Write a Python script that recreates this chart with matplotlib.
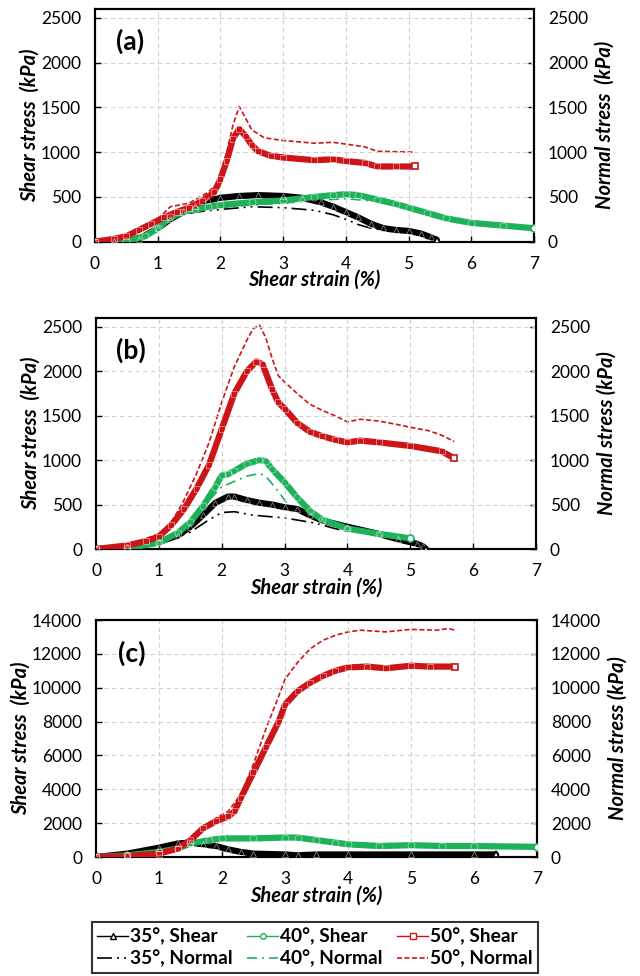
import matplotlib
matplotlib.use("Agg")
import matplotlib.pyplot as plt
from matplotlib.lines import Line2D
import numpy as np

plt.rcParams['font.family'] = ['Lato', 'DejaVu Sans']

# ---------------- panel (a) ----------------
a35s_x = [0, 0.3, 0.7, 1.0, 1.2, 1.4, 1.6, 1.8, 2.0, 2.3, 2.6, 3.0, 3.3, 3.6, 3.8, 4.0, 4.2, 4.4, 4.6, 4.8, 5.0, 5.2, 5.35, 5.45]
a35s_y = [0, 5, 30, 150, 250, 330, 400, 460, 490, 510, 520, 510, 490, 440, 390, 330, 270, 200, 150, 130, 120, 90, 50, 20]
a35n_x = [0, 0.3, 0.7, 1.0, 1.3, 1.6, 2.0, 2.5, 3.0, 3.5, 3.8, 4.0, 4.2, 4.4, 4.6]
a35n_y = [0, 5, 30, 120, 280, 330, 360, 390, 380, 350, 300, 250, 190, 150, 130]
a40s_x = [0, 0.5, 0.8, 1.0, 1.2, 1.4, 1.6, 1.8, 2.0, 2.5, 3.0, 3.5, 3.8, 4.0, 4.2, 4.5, 4.8, 5.0, 5.3, 5.6, 6.0, 6.5, 7.0]
a40s_y = [0, 10, 60, 150, 270, 330, 360, 390, 410, 440, 460, 500, 520, 530, 520, 470, 420, 380, 320, 260, 210, 180, 150]
a40n_x = [0, 0.5, 0.8, 1.0, 1.2, 1.4, 1.7, 2.0, 2.5, 3.0, 3.5, 4.0, 4.5, 4.8, 5.0]
a40n_y = [0, 10, 50, 130, 250, 310, 350, 380, 410, 430, 460, 480, 450, 400, 370]
a50s_x = [0, 0.3, 0.5, 0.7, 0.9, 1.1, 1.3, 1.5, 1.7, 1.9, 2.0, 2.1, 2.2, 2.3, 2.4, 2.5, 2.6, 2.8, 3.0, 3.5, 3.8, 4.0, 4.3, 4.5, 4.8, 5.1]
a50s_y = [0, 30, 60, 130, 200, 270, 330, 380, 450, 550, 700, 900, 1150, 1260, 1180, 1080, 1010, 960, 940, 910, 920, 900, 880, 840, 840, 840]
a50n_x = [0, 0.5, 1.0, 1.2, 1.5, 1.8, 1.95, 2.1, 2.2, 2.3, 2.4, 2.5, 2.7, 3.0, 3.5, 3.8, 4.0, 4.3, 4.5, 5.1]
a50n_y = [0, 60, 250, 390, 430, 550, 650, 1000, 1300, 1510, 1380, 1250, 1160, 1130, 1100, 1110, 1090, 1060, 1010, 1000]

# ---------------- panel (b) ----------------
b35s_x = [0, 0.5, 1.0, 1.3, 1.5, 1.7, 1.9, 2.1, 2.2, 2.4, 2.6, 2.8, 3.0, 3.2, 3.4, 3.6, 4.0, 4.5, 4.8, 5.1, 5.2, 5.25]
b35s_y = [0, 20, 80, 150, 250, 380, 520, 590, 590, 550, 520, 500, 470, 450, 380, 320, 250, 170, 110, 60, 30, 0]
b35n_x = [0, 0.5, 1.0, 1.5, 1.8, 2.0, 2.2, 2.5, 3.0, 3.5, 3.8, 4.0]
b35n_y = [0, 15, 60, 190, 330, 410, 420, 380, 350, 290, 230, 200]
b40s_x = [0, 0.5, 1.0, 1.3, 1.5, 1.7, 1.9, 2.0, 2.1, 2.2, 2.4, 2.6, 2.7, 2.8, 3.0, 3.2, 3.4, 3.6, 4.0, 4.5, 5.0]
b40s_y = [0, 10, 70, 180, 300, 480, 700, 830, 840, 880, 960, 1000, 990, 900, 750, 580, 430, 330, 230, 170, 120]
b40n_x = [0, 0.5, 1.0, 1.3, 1.5, 1.8, 2.0, 2.2, 2.4, 2.6, 2.7, 2.9, 3.1]
b40n_y = [0, 10, 60, 160, 300, 550, 700, 760, 820, 850, 820, 650, 450]
b50s_x = [0, 0.5, 0.8, 1.0, 1.2, 1.4, 1.6, 1.8, 2.0, 2.2, 2.4, 2.55, 2.65, 2.8, 2.9, 3.0, 3.2, 3.4, 3.6, 3.8, 4.0, 4.2, 4.5, 5.0, 5.5, 5.7]
b50s_y = [0, 40, 90, 140, 270, 450, 680, 950, 1350, 1750, 2000, 2110, 2080, 1800, 1650, 1580, 1420, 1320, 1270, 1230, 1200, 1220, 1200, 1160, 1100, 1020]
b50n_x = [0, 0.5, 1.0, 1.2, 1.4, 1.6, 1.8, 2.0, 2.2, 2.4, 2.5, 2.6, 2.7, 2.8, 2.9, 3.0, 3.2, 3.4, 3.6, 3.8, 4.0, 4.2, 4.5, 4.8, 5.0, 5.3, 5.5, 5.7]
b50n_y = [0, 40, 170, 300, 550, 850, 1200, 1650, 2050, 2350, 2480, 2520, 2380, 2150, 1950, 1880, 1750, 1630, 1560, 1500, 1430, 1460, 1440, 1400, 1370, 1330, 1280, 1210]

# ---------------- panel (c) ----------------
c35s_x = [0, 0.5, 1.0, 1.3, 1.5, 1.7, 1.9, 2.1, 2.3, 2.5, 3.0, 3.2, 3.5, 4.0, 5.0, 6.0, 6.35]
c35s_y = [0, 200, 550, 800, 850, 750, 650, 450, 300, 200, 150, 100, 150, 150, 150, 150, 150]
c35n_x = [0, 0.5, 1.0, 1.3, 1.5, 1.8, 2.0, 2.3, 2.5, 3.0, 4.0, 6.35]
c35n_y = [0, 150, 500, 750, 800, 700, 500, 280, 170, 100, 100, 100]
c40s_x = [0, 0.5, 1.0, 1.3, 1.5, 1.8, 2.0, 2.5, 3.0, 3.2, 3.5, 3.8, 4.0, 4.5, 5.0, 5.5, 6.0, 7.0]
c40s_y = [0, 100, 300, 500, 800, 1000, 1100, 1100, 1150, 1150, 1000, 850, 750, 650, 700, 650, 650, 600]
c40n_x = [0, 0.5, 1.0, 1.5, 2.0, 3.0, 4.0, 5.0, 7.0]
c40n_y = [0, 80, 270, 750, 1050, 1100, 700, 650, 580]
c50s_x = [0, 0.5, 1.0, 1.3, 1.5, 1.7, 1.9, 2.1, 2.2, 2.3, 2.5, 2.7, 2.9, 3.0, 3.2, 3.4, 3.6, 3.8, 4.0, 4.3, 4.6, 5.0, 5.3, 5.7]
c50s_y = [0, 50, 200, 500, 1000, 1700, 2100, 2400, 2700, 3500, 5000, 6500, 8000, 9000, 9800, 10300, 10700, 11000, 11200, 11250, 11150, 11300, 11250, 11250]
c50n_x = [0, 0.5, 1.0, 1.3, 1.5, 1.7, 1.9, 2.1, 2.3, 2.5, 2.7, 2.9, 3.0, 3.2, 3.4, 3.6, 3.8, 4.0, 4.2, 4.6, 5.0, 5.4, 5.6, 5.7]
c50n_y = [0, 60, 250, 600, 1100, 1800, 2300, 2700, 3700, 5500, 7600, 9500, 10500, 11500, 12300, 12800, 13100, 13300, 13400, 13300, 13450, 13400, 13500, 13400]

labels = ["35°, Shear", "35°, Normal", "40°, Shear", "40°, Normal", "50°, Shear", "50°, Normal"]

black = '#000000'
green = '#1DB25A'
red = '#CC1519'
ls35 = (0, (9, 3, 1.2, 3, 1.2, 3))
ls40 = (0, (6, 3, 1.2, 3))
ls50 = (0, (3, 1.5))

fig = plt.figure(figsize=(6.4, 9.76), dpi=100)

panels = [
    ("(a)", [0.1484, 0.7524, 0.686, 0.2384], 2600, 2500, 500,
     [(a35s_x, a35s_y), (a35n_x, a35n_y), (a40s_x, a40s_y), (a40n_x, a40n_y), (a50s_x, a50s_y), (a50n_x, a50n_y)],
     "Normal stress  (kPa)"),
    ("(b)", [0.15, 0.4375, 0.6875, 0.2367], 2600, 2500, 500,
     [(b35s_x, b35s_y), (b35n_x, b35n_y), (b40s_x, b40s_y), (b40n_x, b40n_y), (b50s_x, b50s_y), (b50n_x, b50n_y)],
     "Normal stress (kPa)"),
    ("(c)", [0.15, 0.1219, 0.689, 0.2428], 14000, 14000, 2000,
     [(c35s_x, c35s_y), (c35n_x, c35n_y), (c40s_x, c40s_y), (c40n_x, c40n_y), (c50s_x, c50s_y), (c50n_x, c50n_y)],
     "Normal stress (kPa)"),
]

lab = dict(fontsize=14.5, fontweight='bold', fontstyle='italic')

for tag, rect, ytop, ymax, ystep, series, rlabel in panels:
    ax = fig.add_axes(rect)
    ax2 = ax.twinx()
    (s35, n35, s40, n40, s50, n50) = series
    # shear curves: thick band of hollow markers
    for (xs, ys), c, m in [(s35, black, '^'), (s40, green, 'o'), (s50, red, 's')]:
        ax.plot(xs, ys, color=c, lw=4.5, solid_capstyle='round', zorder=3)
        ax.plot(xs, ys, color=c, lw=0, marker=m, ms=5, mfc='none', mec='white', mew=0.6, alpha=0.5, zorder=4)
        ax.plot(xs[-1:], ys[-1:], lw=0, marker=m, ms=5, mfc='white', mec=c, mew=1.2, zorder=5)
    # normal stress curves on secondary axis
    ax2.plot(n35[0], n35[1], color=black, lw=1.2, ls=ls35, zorder=2)
    ax2.plot(n40[0], n40[1], color=green, lw=1.2, ls=ls40, zorder=2)
    ax2.plot(n50[0], n50[1], color=red, lw=1.2, ls=ls50, zorder=2)

    for a in (ax, ax2):
        a.set_ylim(0, ytop)
        a.set_yticks(np.arange(0, ymax + 1, ystep))
        a.set_xlim(0, 7)
        a.tick_params(direction='in', length=4, width=1, labelsize=12.5, pad=10, colors='black')
        for sp in a.spines.values():
            sp.set_linewidth(1.5)
    ax.set_xticks(range(0, 8))
    ax.grid(True, ls=(0, (4, 3)), color='#d0d0d0', lw=0.8)
    ax.set_axisbelow(True)
    ax.set_zorder(ax2.get_zorder() + 1)
    ax.patch.set_visible(False)
    ax.set_xlabel("Shear strain (%)", labelpad=-1, **lab)
    ax.set_ylabel("Shear stress  (kPa)", labelpad=1, **lab)
    ax2.set_ylabel(rlabel, labelpad=5, **lab)
    ax.text(0.08, 0.86, tag, transform=ax.transAxes, fontsize=19, fontweight='bold', ha='center', va='center')

handles = [
    Line2D([], [], color=black, lw=1, marker='^', ms=4, mfc='white'),
    Line2D([], [], color=black, lw=1.2, ls=ls35),
    Line2D([], [], color=green, lw=1, marker='o', ms=4, mfc='white'),
    Line2D([], [], color=green, lw=1.2, ls=ls40),
    Line2D([], [], color=red, lw=1, marker='s', ms=4, mfc='white'),
    Line2D([], [], color=red, lw=1.2, ls=ls50),
]
leg = fig.legend(handles, labels, ncol=3, loc='center', mode='expand',
                 bbox_to_anchor=(0.128, 0.001, 0.728, 0.056),
                 frameon=True, fancybox=False, edgecolor='black', handlelength=1.6,
                 handletextpad=0.1, columnspacing=1.2, borderpad=0.3, labelspacing=0.25,
                 prop={'weight': 'bold', 'size': 13.8})
leg.get_frame().set_linewidth(1.5)

fig.savefig("out.png", dpi=100)
